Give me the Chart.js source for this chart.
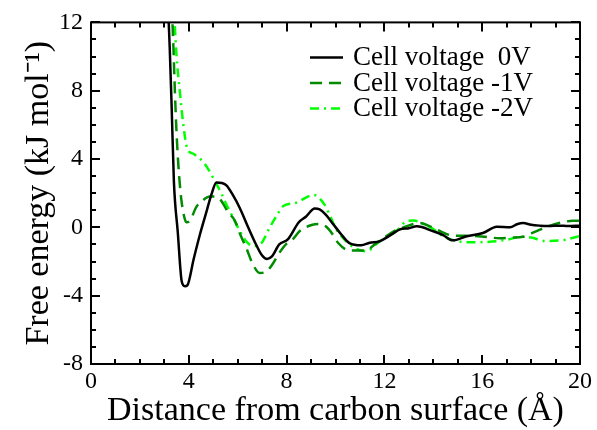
<!DOCTYPE html>
<html>
<head>
<meta charset="UTF-8" />
<title>Free energy vs distance</title>
<style>
  html, body { margin: 0; padding: 0; background: #ffffff; }
</style>
</head>
<body>
<canvas id="profileChart" width="597" height="430"></canvas>

<script src="https://cdn.jsdelivr.net/npm/chart.js@4"></script>
<script>
// values
const dist0V = [3.15, 3.22, 3.30, 3.39, 3.55, 3.71, 3.84, 3.94, 4.20, 4.45, 4.70, 4.93, 5.13, 5.35, 5.55, 5.80, 6.08, 6.40, 6.75, 7.00, 7.20, 7.40, 7.70, 8.05, 8.50, 8.80, 9.15, 9.35, 9.60, 9.90, 10.20, 10.57, 11.05, 11.40, 11.80, 12.20, 12.64, 13.00, 13.32, 14.00, 14.40, 14.80, 15.36, 16.03, 16.60, 17.14, 17.45, 17.68, 18.00, 18.36, 18.70, 19.18, 19.50, 20.00];
const energy0V = [13, 10.5, 7, 2.7, -0.3, -3.16, -3.45, -3.4, -1.85, -0.45, 0.8, 1.95, 2.63, 2.6, 2.45, 1.9, 1.15, 0.1, -1.0, -1.65, -1.85, -1.7, -1.0, -0.7, 0.3, 0.64, 1.1, 1.05, 0.75, 0.2, -0.35, -0.92, -1.05, -0.9, -0.82, -0.5, -0.12, -0.05, 0.06, -0.23, -0.45, -0.76, -0.52, -0.33, 0.04, 0.0, 0.2, 0.25, 0.15, 0.1, 0.08, 0.1, 0.08, 0.1];

const dist1V = [3.30, 3.36, 3.43, 3.50, 3.58, 3.68, 3.80, 3.90, 4.05, 4.31, 4.55, 4.86, 5.10, 5.33, 5.60, 5.88, 6.10, 6.35, 6.60, 6.90, 7.20, 7.45, 7.70, 8.00, 8.25, 8.55, 9.06, 9.35, 9.60, 9.88, 10.10, 10.57, 11.25, 11.60, 11.90, 12.30, 12.78, 13.45, 13.80, 14.14, 14.80, 15.50, 16.10, 16.72, 17.20, 17.67, 18.20, 18.90, 19.30, 19.70, 20.00];
const energy1V = [13, 11, 8, 5.5, 3.5, 1.8, 0.7, 0.3, 0.4, 1.2, 1.55, 1.8, 1.8, 1.55, 0.9, 0.4, -0.4, -1.2, -2.1, -2.67, -2.55, -2.1, -1.5, -0.95, -0.7, -0.2, 0.15, 0.19, 0.06, -0.4, -0.9, -1.35, -1.35, -1.0, -0.7, -0.3, 0.0, 0.25, 0.1, -0.13, -0.48, -0.5, -0.55, -0.64, -0.6, -0.55, -0.23, 0.16, 0.3, 0.39, 0.38];

const dist2V = [3.38, 3.42, 3.50, 3.63, 3.76, 3.90, 3.97, 4.20, 4.57, 4.80, 5.00, 5.33, 5.54, 5.80, 5.95, 6.20, 6.35, 6.63, 6.97, 7.30, 7.60, 7.85, 8.40, 8.94, 9.10, 9.55, 9.80, 10.03, 10.30, 10.57, 11.25, 11.80, 12.20, 12.48, 12.90, 13.20, 13.57, 14.00, 14.40, 14.95, 15.63, 16.60, 17.10, 17.55, 18.00, 18.60, 19.40, 20.00];
const energy2V = [13, 12, 10, 8, 6.2, 4.8, 4.5, 4.3, 3.86, 3.4, 2.88, 2.0, 1.33, 0.6, 0.16, -0.5, -0.82, -1.1, -0.92, -0.04, 0.7, 1.23, 1.45, 1.85, 1.9, 1.33, 0.6, -0.12, -0.6, -1.0, -1.4, -0.82, -0.5, -0.23, 0.35, 0.4, 0.2, -0.1, -0.52, -0.8, -0.87, -0.81, -0.7, -0.55, -0.6, -0.8, -0.72, -0.5];

const seriesLabels = ['Cell voltage  0V', 'Cell voltage -1V', 'Cell voltage -2V'];
const xTicks = [0, 4, 8, 12, 16, 20];
const yTicks = [-8, -4, 0, 4, 8, 12];

const toPoints = (xs, ys) => xs.map((x, i) => ({ x, y: ys[i] }));
const serif = '"Liberation Serif", "Times New Roman", serif';

// frame on all four sides with inward major/minor ticks
const frameTicks = {
  id: 'frameTicks',
  afterDraw(chart) {
    const { ctx, chartArea: a, scales: { x, y } } = chart;
    ctx.save();
    ctx.strokeStyle = '#000';
    ctx.lineWidth = 2;
    ctx.setLineDash([]);
    ctx.strokeRect(a.left, a.top, a.right - a.left, a.bottom - a.top);
    ctx.beginPath();
    for (let v = x.min; v <= x.max; v++) {
      const px = Math.round(x.getPixelForValue(v));
      const len = v % 4 === 0 ? 9 : 5;
      ctx.moveTo(px, a.bottom); ctx.lineTo(px, a.bottom - len);
      ctx.moveTo(px, a.top); ctx.lineTo(px, a.top + len);
    }
    for (let v = y.min; v <= y.max; v++) {
      const py = Math.round(y.getPixelForValue(v));
      const len = v % 4 === 0 ? 9 : 5;
      ctx.moveTo(a.left, py); ctx.lineTo(a.left + len, py);
      ctx.moveTo(a.right, py); ctx.lineTo(a.right - len, py);
    }
    ctx.stroke();
    ctx.restore();
  }
};

// legend sitting inside the plot, top right
const insideLegend = {
  id: 'insideLegend',
  afterDraw(chart) {
    const { ctx, chartArea: a } = chart;
    ctx.save();
    ctx.font = '27px ' + serif;
    ctx.textBaseline = 'middle';
    ctx.textAlign = 'left';
    chart.data.datasets.forEach((ds, i) => {
      const yy = a.top + 35 + i * 25.5;
      const x0 = a.right - 270;
      ctx.strokeStyle = ds.borderColor;
      ctx.lineWidth = ds.borderWidth;
      ctx.setLineDash(ds.borderDash || []);
      ctx.beginPath();
      ctx.moveTo(x0, yy);
      ctx.lineTo(x0 + 33, yy);
      ctx.stroke();
      ctx.setLineDash([]);
      ctx.fillStyle = '#000';
      ctx.fillText(ds.label, x0 + 43, yy + 1);
    });
    ctx.restore();
  }
};

new Chart(document.getElementById('profileChart'), {
  type: 'line',
  data: {
    datasets: [
      {
        label: seriesLabels[0],
        data: toPoints(dist0V, energy0V),
        borderColor: '#000000',
        borderWidth: 2.5
      },
      {
        label: seriesLabels[1],
        data: toPoints(dist1V, energy1V),
        borderColor: '#008b00',
        borderWidth: 2.5,
        borderDash: [12, 7]
      },
      {
        label: seriesLabels[2],
        data: toPoints(dist2V, energy2V),
        borderColor: '#00ff00',
        borderWidth: 2.5,
        borderDash: [9, 5, 2, 5]
      }
    ]
  },
  options: {
    responsive: false,
    animation: false,
    elements: {
      point: { radius: 0 },
      line: { cubicInterpolationMode: 'monotone', fill: false }
    },
    layout: { padding: { left: 0, right: 17, top: 20, bottom: 0 } },
    plugins: {
      legend: { display: false },
      tooltip: { enabled: false }
    },
    scales: {
      x: {
        type: 'linear',
        min: 0,
        max: 20,
        afterBuildTicks: s => { s.ticks = xTicks.map(v => ({ value: v })); },
        afterFit: s => { s.height = 66; },
        grid: { display: false, drawTicks: false },
        border: { display: false },
        ticks: {
          color: '#000',
          padding: 3,
          maxRotation: 0,
          font: { family: serif, size: 24 }
        },
        title: {
          display: true,
          text: 'Distance from carbon surface (Å)',
          color: '#000',
          font: { family: serif, size: 34, lineHeight: 1 },
          padding: { top: 0, bottom: 2 }
        }
      },
      y: {
        type: 'linear',
        min: -8,
        max: 12,
        afterBuildTicks: s => { s.ticks = yTicks.map(v => ({ value: v })); },
        afterFit: s => { s.width = 91; },
        grid: { display: false, drawTicks: false },
        border: { display: false },
        ticks: {
          color: '#000',
          padding: 8,
          font: { family: serif, size: 24 }
        },
        title: {
          display: true,
          text: 'Free energy (kJ mol⁻¹)',
          color: '#000',
          font: { family: serif, size: 34, lineHeight: 1 },
          padding: { top: 22, bottom: 0 }
        }
      }
    }
  },
  plugins: [frameTicks, insideLegend]
});
</script>
</body>
</html>
